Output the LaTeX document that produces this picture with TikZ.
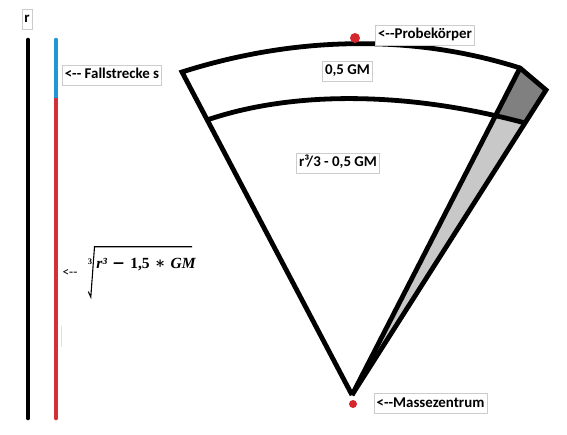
\documentclass[tikz,border=0pt]{standalone}
\usepackage[no-math]{fontspec}
\setmainfont{Carlito}
\newfontfamily\formserif{Liberation Serif}
\newfontfamily\formsym{DejaVu Serif}
\definecolor{fallblue}{RGB}{32,152,212}
\definecolor{fallred}{RGB}{212,48,58}
\definecolor{dotred}{RGB}{214,40,44}
\definecolor{wedgelight}{RGB}{200,200,200}
\definecolor{wedgedark}{RGB}{128,128,128}
\definecolor{faint}{RGB}{222,222,232}
\newcommand\lftarr{<-{}-}
\newcommand\radicandtext{{\formserif\bfseries\itshape r³}\,\,{\formsym\bfseries −}\,\,{\formserif\bfseries 1,5}\,\,{\formsym\bfseries ∗}\,\,{\formserif\bfseries\itshape GM}}
\begin{document}
\begin{tikzpicture}[x=1pt,y=-1pt,
  lbl/.style={draw=black!20, line width=0.6pt, fill=white, inner xsep=2.5pt, inner ysep=3pt,
    text height=10.5pt, text depth=3.5pt,
    font=\fontsize{14.9}{16}\selectfont\bfseries},
  sectorline/.style={line width=4.8pt, line join=miter},
  barline/.style={line width=4.6pt}]
\useasboundingbox (0,0) rectangle (567,435);
\fill[white] (0,0) rectangle (567,435);

% vertical bars
\coordinate (rtop) at (28,40);
\coordinate (rbot) at (28,418);
\coordinate (stop) at (56,40);
\coordinate (smid) at (56,98);
\coordinate (sbot) at (56,418);
\draw[barline, line cap=round] (rtop) -- (rbot);
\draw[barline, fallblue, line cap=round] (stop) -- (smid);
\draw[barline, fallred, line cap=round] (sbot) -- ([yshift=2pt]smid);
\draw[barline, fallblue, line cap=butt] (stop) -- (smid);
\coordinate (f1) at (61.5,326);
\coordinate (f2) at (61.5,347);
\draw[faint, line width=0.9pt] (f1) -- (f2);

% sector points
\coordinate (A) at (182,72);
\coordinate (B) at (520,68);
\coordinate (C) at (546,90);
\coordinate (O) at (352,395);
\coordinate (I1) at (207,120);
\coordinate (I2) at (496,115);
\coordinate (I3) at (525,123);

% wedge fills
\fill[wedgelight] (I2) -- (I3) -- (O) -- cycle;
\fill[wedgedark] (B) -- (C) -- (I3) -- (I2) -- cycle;

% sector outline
\draw[sectorline] (O) -- (A) .. controls (292,37) and (410,33) .. (B) -- (C) -- (O);
\draw[sectorline] (B) -- (O);
\draw[sectorline] (I1) .. controls (295,90) and (410,92) .. (I3);

% dots
\fill[dotred] (355,38) circle (5pt);
\fill[dotred] (353,404) circle (4pt);

% labels
\node[lbl] (rlab) at (27,19.5) {r};
\node[lbl] (fall) at (112,75.5) {\lftarr{} Fallstrecke s};
\node[lbl] (probe) at (425,35.5) {\lftarr Probekörper};
\node[lbl] (half) at (347.5,71.5) {0,5 GM};
\node[lbl] (inner) at (338,163) {r³/3 - 0,5 GM};
\node[lbl] (mass) at (430.5,403.5) {\lftarr Massezentrum};

% formula
\node[font=\fontsize{13.5}{14}\selectfont, inner sep=0pt] (farr) at (70,273) {\lftarr};
\coordinate (rad1) at (88.3,291.5);
\coordinate (rad2) at (90.8,297);
\coordinate (rad3) at (94.5,246.8);
\coordinate (rad4) at (192,246.8);
\draw[line width=1.1pt, line join=miter] (rad1) -- (rad2) -- (rad3) -- (rad4);
\node[font=\fontsize{8.5}{10}\selectfont\formserif\bfseries, inner sep=0pt] (idx) at (90,261.5) {3};
\node[font=\fontsize{15.5}{17}\selectfont, inner sep=0pt] (radicand) at (146,264.5) {\radicandtext};
\end{tikzpicture}
\end{document}
